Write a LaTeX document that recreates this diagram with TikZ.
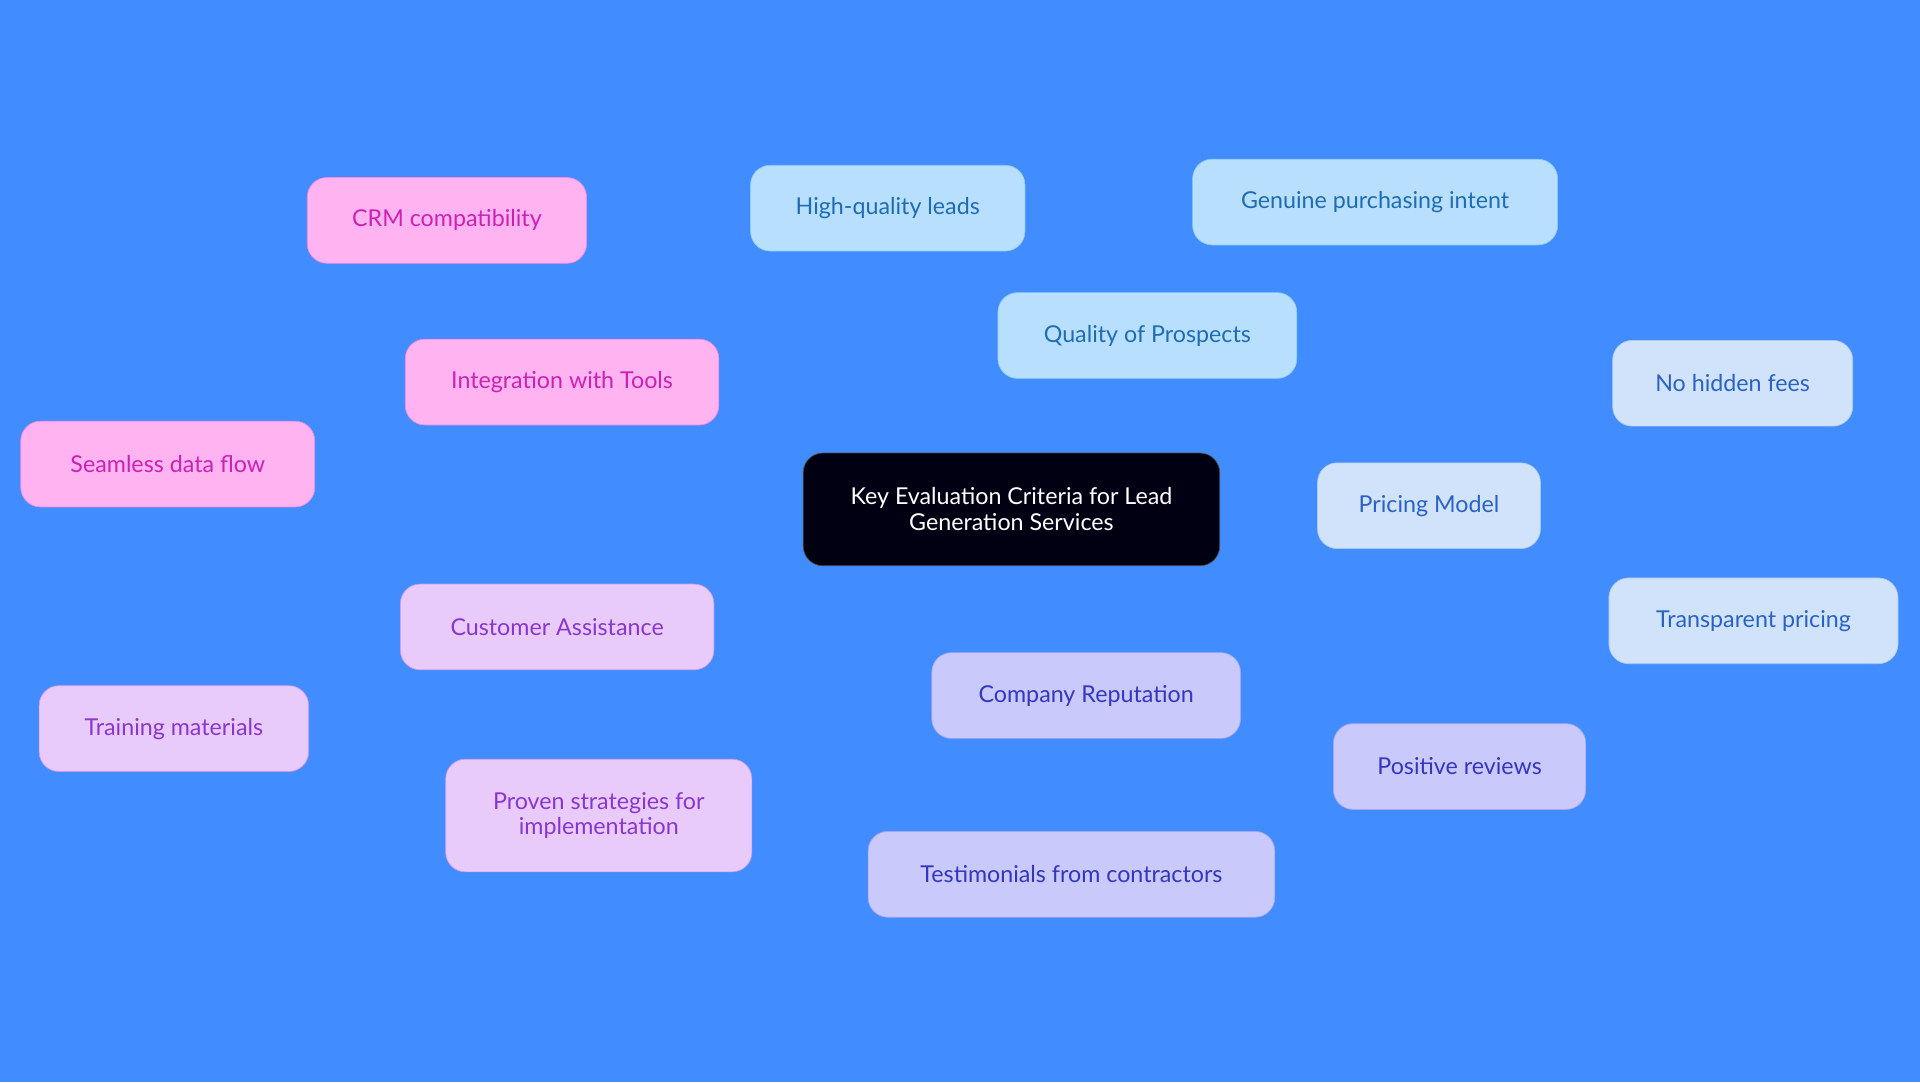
\documentclass[tikz,border=0pt]{standalone}
\usepackage{fontspec}
\setmainfont{Lato}
\usetikzlibrary{backgrounds}
\definecolor{bg}{HTML}{418CFE}
\definecolor{qf}{HTML}{B8E0FE}\definecolor{qt}{HTML}{1F6CB4}\definecolor{qe}{HTML}{8CCBF5}
\definecolor{pf}{HTML}{D0E3FB}\definecolor{pt}{HTML}{2A62C4}\definecolor{pe}{HTML}{A9C8F5}
\definecolor{cf}{HTML}{C9C9FB}\definecolor{ct}{HTML}{3436BE}\definecolor{ce}{HTML}{A7A6F2}
\definecolor{af}{HTML}{E8CBFB}\definecolor{at}{HTML}{8A36CE}\definecolor{ae}{HTML}{C79AF0}
\definecolor{if}{HTML}{FFB3F0}\definecolor{it}{HTML}{CC22B4}\definecolor{ie}{HTML}{F58ADF}
\begin{document}
\begin{tikzpicture}[x=0.025cm,y=-0.025cm,
 b/.style={rounded corners=0.4cm,minimum height=1.75cm,align=center,font=\fontsize{13.5}{15}\selectfont,inner sep=2pt},
 q/.style={b,fill=qf,draw=qe,text=qt}, p/.style={b,fill=pf,draw=pe,text=pt},
 c/.style={b,fill=cf,draw=ce,text=ct}, a/.style={b,fill=af,draw=ae,text=at},
 i/.style={b,fill=if,draw=ie,text=it}]
\fill[bg] (0,0) rectangle (1568,884);
\useasboundingbox (0,0) rectangle (1568,884);
\node[b,fill=black!93!blue,draw=black!70,text=white,minimum width=8.5cm,minimum height=2.3cm] (k) at (826,416) {Key Evaluation Criteria for Lead\\Generation Services};
\node[q,minimum width=6.1cm] (q) at (937,274) {Quality of Prospects};
\node[q,minimum width=5.6cm] (q1) at (725,170) {High-quality leads};
\node[q,minimum width=7.45cm] (q2) at (1123,165) {Genuine purchasing intent};
\node[p,minimum width=4.55cm] (p) at (1167,413) {Pricing Model};
\node[p,minimum width=4.9cm] (p1) at (1415,313) {No hidden fees};
\node[p,minimum width=5.9cm] (p2) at (1432,507) {Transparent pricing};
\node[c,minimum width=6.3cm] (c) at (887,568) {Company Reputation};
\node[c,minimum width=5.15cm] (c1) at (1192,626) {Positive reviews};
\node[c,minimum width=8.3cm] (c2) at (875,714) {Testimonials from contractors};
\node[a,minimum width=6.4cm] (a) at (455,512) {Customer Assistance};
\node[a,minimum width=5.5cm] (a1) at (142,595) {Training materials};
\node[a,minimum width=6.25cm,minimum height=2.3cm] (a2) at (489,666) {Proven strategies for\\implementation};
\node[i,minimum width=6.4cm] (i) at (459,312) {Integration with Tools};
\node[i,minimum width=5.7cm] (i1) at (365,180) {CRM compatibility};
\node[i,minimum width=6cm] (i2) at (137,379) {Seamless data flow};
\begin{scope}[on background layer,line width=1.3pt]
\fill[bg] (0,0) rectangle (1568,884);
\draw[qe] (k)--(q) (q)--(q1) (q)--(q2);
\draw[pe] (k)--(p) (p)--(p1) (p)--(p2);
\draw[ce] (k)--(c) (c)--(c1) (c)--(c2);
\draw[ae] (k)--(a) (a)--(a1) (a)--(a2);
\draw[ie] (k)--(i) (i)--(i1) (i)--(i2);
\end{scope}
\end{tikzpicture}
\end{document}
